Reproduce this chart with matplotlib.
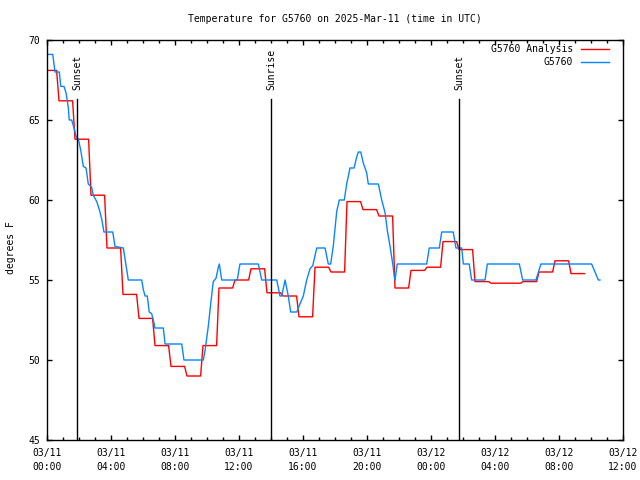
import numpy as np
import matplotlib
matplotlib.use("Agg")
import matplotlib.pyplot as plt
from matplotlib.ticker import MultipleLocator, FixedLocator, FixedFormatter
import pandas as pd

plt.rcParams['font.family'] = ['DejaVu Sans Mono']
plt.rcParams['font.size'] = 7

start = pd.Timestamp("2025-03-11 00:00")

# G5760 observations: hours since start, degrees F
blue_hours = [0.08, 0.36, 0.5, 0.77, 0.86, 1.06, 1.19, 1.33, 1.39, 1.54, 1.69, 1.81,
              1.96, 2.11, 2.27, 2.44, 2.58, 2.79, 2.89, 3.11, 3.27, 3.42, 3.56, 4.11,
              4.25, 4.77, 4.88, 5.02, 5.08, 5.92, 6.02, 6.13, 6.27, 6.39, 6.54, 6.69,
              6.75, 7.27, 7.38, 8.42, 8.56, 9.77, 9.88, 10.08, 10.23, 10.39, 10.56, 10.71,
              10.77, 10.92, 11.89, 12.06, 13.21, 13.42, 14.36, 14.56, 14.67, 14.88, 15.08, 15.23,
              15.61, 15.81, 16.02, 16.23, 16.44, 16.61, 16.86, 17.38, 17.58, 17.73, 17.89, 18.11,
              18.27, 18.58, 18.73, 18.94, 19.19, 19.36, 19.46, 19.61, 19.77, 19.98, 20.08, 20.71,
              20.92, 21.13, 21.27, 21.44, 21.61, 21.71, 21.75, 21.89, 23.73, 23.89, 24.52, 24.67,
              25.39, 25.56, 25.92, 26.02, 26.39, 26.54, 27.38, 27.52, 29.52, 29.73, 30.56, 30.87,
              34.04, 34.46, 34.56]
blue_temp = [69.1, 69.1, 68.0, 68.0, 67.1, 67.1, 66.7, 65.8, 65.0, 65.0, 64.5, 64.0,
             63.8, 63.1, 62.1, 62.0, 61.0, 60.8, 60.3, 59.9, 59.4, 58.8, 58.0, 58.0,
             57.1, 57.0, 56.3, 55.4, 55.0, 55.0, 54.4, 54.0, 54.0, 53.0, 52.9, 52.3,
             52.0, 52.0, 51.0, 51.0, 50.0, 50.0, 50.6, 52.1, 53.5, 54.9, 55.1, 55.8,
             56.0, 55.0, 55.0, 56.0, 56.0, 55.0, 55.0, 54.0, 54.0, 55.0, 54.0, 53.0,
             53.0, 53.5, 54.0, 55.0, 55.7, 55.9, 57.0, 57.0, 56.0, 56.0, 57.1, 59.3,
             60.0, 60.0, 61.0, 62.0, 62.0, 62.7, 63.0, 63.0, 62.3, 61.7, 61.0, 61.0,
             60.0, 59.2, 58.1, 57.1, 56.0, 55.2, 55.0, 56.0, 56.0, 57.0, 57.0, 58.0,
             58.0, 57.0, 57.0, 56.0, 56.0, 55.0, 55.0, 56.0, 56.0, 55.0, 55.0, 56.0,
             56.0, 55.0, 55.0]

# G5760 Analysis: hourly values, each one changes at hh:36
red_temp = [68.1, 66.2, 63.8, 60.3, 57.0, 54.1, 52.6, 50.9, 49.6, 49.0, 50.9, 54.5,
            55.0, 55.7, 54.2, 54.0, 52.7, 55.8, 55.5, 59.9, 59.4, 59.0, 54.5, 55.6,
            55.8, 57.4, 56.9, 54.9, 54.8, 54.8, 54.9, 55.5, 56.2, 55.4]
red_first = 0.05
red_change = 0.6
ramp = 0.15

sun_hours = [1.875, 14.02, 25.75]
sun_labels = ["Sunset", "Sunrise", "Sunset"]

# build the analysis step line
rx = [red_first]
ry = [red_temp[0]]
for k in range(len(red_temp) - 1):
    t = red_change + k
    rx += [t, t + ramp]
    ry += [red_temp[k], red_temp[k + 1]]
rx.append(red_change + len(red_temp) - 1)
ry.append(red_temp[-1])

fig = plt.figure(figsize=(6.4, 4.8), dpi=100)
ax = fig.add_axes([47 / 640, 40 / 480, 576 / 640, 400 / 480])

ax.plot(rx, ry, color='#ff0000', lw=1.0, label='G5760 Analysis')
ax.plot(blue_hours, blue_temp, color='#0a84ff', lw=1.0, label='G5760')

for h, lab in zip(sun_hours, sun_labels):
    ax.plot([h, h], [45, 66.3], color='black', lw=1.0)
    ax.text(h, 0.875, lab, transform=ax.get_xaxis_transform(), rotation=90,
            ha='center', va='bottom')

ax.set_xlim(0, 36)
ax.set_ylim(45, 70)

xt = np.arange(0, 37, 4)
ax.xaxis.set_major_locator(FixedLocator(xt))
ax.xaxis.set_major_formatter(FixedFormatter(
    [(start + pd.Timedelta(hours=int(h))).strftime("%m/%d\n%H:%M") for h in xt]))
ax.xaxis.set_minor_locator(MultipleLocator(1))
ax.yaxis.set_major_locator(MultipleLocator(5))

ax.tick_params(which='both', direction='in', top=True, right=True, width=1.0)
ax.tick_params(which='major', length=3.6)
ax.tick_params(which='minor', length=2.0)
ax.tick_params(axis='x', which='major', pad=6)
ax.tick_params(axis='y', pad=5)
for lab in ax.get_xticklabels():
    lab.set_linespacing(1.5)
for sp in ax.spines.values():
    sp.set_linewidth(1.0)

ax.set_ylabel("degrees F")
ax.yaxis.set_label_coords(-0.054, 0.48)
ax.set_title("Temperature for G5760 on 2025-Mar-11 (time in UTC)", fontsize=7, pad=13)

ax.legend(loc='upper right', bbox_to_anchor=(0.976, 0.99), frameon=False,
          markerfirst=False, handlelength=2.9, handletextpad=0.8, borderpad=0,
          borderaxespad=0, labelspacing=0.35)

fig.savefig("out.png", dpi=100)
